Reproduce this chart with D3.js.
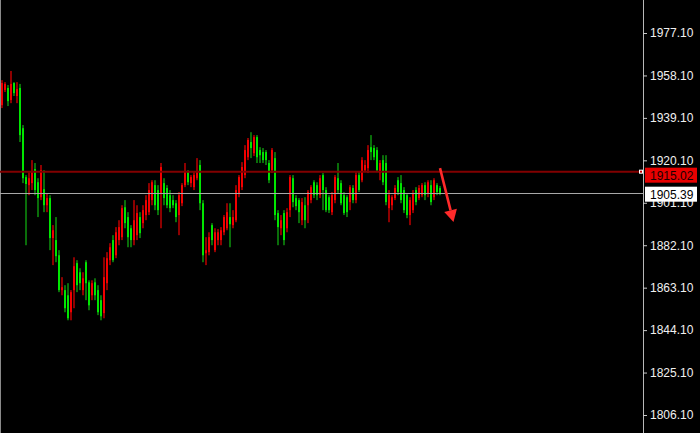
<!DOCTYPE html>
<html><head><meta charset="utf-8">
<script src="https://cdn.jsdelivr.net/npm/d3@7"></script>
<style>html,body{margin:0;padding:0;background:#000;}svg{display:block;}</style>
</head><body>
<svg id="chart" width="700" height="433"></svg>
<script>
// ---- data (prices) ----
const opens = [1944.8,1951.6,1952.5,1947.1,1954.7,1948.9,1952.5,1934.5,1912.6,1909.0,1909.9,1916.2,1910.3,1903.6,1907.2,1900.0,1903.2,1885.3,1884.4,1877.6,1862.0,1862.0,1859.7,1852.1,1862.0,1874.1,1870.0,1862.0,1874.5,1865.5,1859.7,1865.5,1862.0,1857.5,1851.7,1865.1,1875.4,1884.4,1877.6,1884.4,1885.7,1899.1,1894.7,1889.7,1884.4,1886.6,1894.7,1892.0,1895.6,1896.9,1902.3,1909.0,1906.8,1905.4,1909.9,1907.7,1904.5,1902.3,1900.9,1895.6,1900.9,1909.0,1914.8,1909.9,1908.1,1912.1,1918.0,1900.9,1878.5,1879.0,1891.1,1879.9,1884.4,1884.4,1887.9,1889.7,1894.7,1891.1,1893.3,1905.4,1908.1,1913.5,1921.5,1928.3,1923.3,1930.5,1924.7,1923.8,1923.8,1918.9,1915.7,1921.1,1896.5,1889.7,1896.5,1889.7,1897.8,1912.1,1903.2,1902.3,1893.3,1900.0,1900.0,1902.3,1910.3,1909.0,1904.5,1913.5,1906.8,1903.6,1896.9,1902.3,1912.1,1909.9,1904.5,1903.6,1901.4,1907.7,1902.3,1913.5,1911.2,1915.7,1916.6,1926.0,1925.6,1924.7,1914.4,1920.2,1918.9,1898.7,1900.0,1903.2,1911.2,1909.9,1906.8,1904.5,1895.6,1897.8,1906.8,1903.2,1904.5,1909.0,1905.4,1909.0,1903.6,1909.0,1907.7];
const highs = [1956.0,1955.1,1953.8,1960.1,1955.1,1955.1,1954.3,1935.9,1913.5,1914.8,1920.2,1918.9,1912.1,1918.0,1915.7,1905.4,1904.5,1891.1,1894.7,1879.9,1867.8,1864.2,1865.1,1862.0,1876.7,1875.4,1871.8,1870.0,1875.4,1866.4,1866.4,1867.3,1864.2,1859.7,1876.7,1879.0,1883.0,1886.6,1890.2,1893.3,1900.0,1902.3,1896.9,1891.1,1902.3,1900.0,1896.9,1900.0,1904.5,1909.9,1911.2,1911.2,1909.0,1918.9,1912.1,1909.0,1906.8,1904.5,1902.3,1905.9,1909.9,1918.9,1915.7,1913.5,1914.8,1921.1,1920.2,1902.3,1885.7,1887.9,1892.0,1889.7,1889.3,1890.2,1895.6,1900.9,1900.9,1897.8,1909.0,1913.5,1919.3,1926.9,1930.1,1932.7,1931.4,1931.4,1926.0,1925.6,1924.7,1920.2,1925.6,1923.8,1897.8,1895.6,1897.8,1898.7,1913.5,1913.5,1904.5,1903.2,1903.2,1903.6,1906.8,1909.0,1911.2,1910.3,1913.5,1914.4,1908.1,1904.5,1905.9,1913.5,1918.9,1911.2,1905.9,1904.5,1909.0,1909.0,1914.8,1914.8,1921.5,1920.2,1926.9,1931.4,1926.9,1926.0,1920.2,1922.4,1922.4,1906.8,1904.5,1909.0,1912.6,1913.5,1908.1,1905.4,1903.6,1906.8,1908.1,1909.0,1909.9,1910.3,1911.2,1911.2,1912.1,1909.9,1908.6];
const lows = [1943.5,1950.7,1944.4,1945.7,1948.9,1945.7,1928.3,1909.9,1882.1,1904.5,1906.8,1904.5,1894.7,1902.3,1896.9,1896.9,1879.9,1873.2,1874.5,1861.1,1859.7,1852.1,1848.5,1848.5,1853.9,1861.1,1862.0,1859.7,1857.5,1853.0,1857.5,1857.5,1850.8,1848.5,1849.4,1862.0,1873.2,1874.5,1876.3,1882.1,1884.4,1889.7,1881.2,1881.2,1882.1,1884.4,1885.3,1889.7,1893.3,1895.6,1900.0,1897.8,1895.6,1889.7,1900.0,1898.7,1896.9,1898.7,1892.4,1886.6,1899.6,1908.1,1909.0,1908.1,1906.8,1911.2,1897.8,1874.5,1873.2,1877.6,1882.1,1879.0,1882.1,1882.1,1886.6,1888.8,1881.2,1889.7,1892.4,1903.6,1906.8,1912.1,1920.2,1921.1,1922.0,1918.9,1918.9,1918.9,1918.0,1909.9,1914.4,1893.3,1882.1,1886.6,1882.1,1887.9,1894.7,1899.1,1897.8,1892.0,1891.1,1889.7,1892.0,1900.9,1903.2,1902.3,1903.2,1897.8,1896.9,1896.5,1895.6,1900.9,1905.4,1900.0,1895.6,1894.7,1897.8,1900.9,1900.9,1905.9,1910.3,1914.8,1914.4,1920.2,1920.2,1914.8,1911.2,1909.0,1900.0,1892.4,1897.8,1902.3,1904.5,1900.9,1896.5,1894.2,1891.1,1896.5,1900.0,1902.3,1903.6,1902.3,1903.6,1900.0,1902.3,1904.5,1904.5];
const closes = [1954.7,1954.3,1946.6,1954.3,1950.2,1952.0,1931.4,1912.1,1909.5,1912.1,1914.8,1906.8,1903.2,1915.7,1900.0,1903.2,1885.3,1888.8,1877.2,1862.0,1863.3,1853.9,1849.4,1861.1,1872.7,1864.2,1865.1,1867.3,1865.1,1855.2,1865.1,1859.7,1852.1,1850.3,1867.8,1876.3,1881.2,1875.4,1887.9,1890.2,1898.7,1892.0,1885.7,1884.4,1893.3,1896.5,1887.5,1897.8,1902.3,1906.8,1910.3,1900.0,1897.8,1917.1,1903.2,1900.0,1898.7,1900.0,1894.7,1904.5,1909.0,1915.3,1910.3,1912.6,1913.5,1914.8,1900.9,1877.6,1879.9,1885.7,1884.4,1887.9,1887.9,1888.8,1894.7,1896.9,1891.5,1894.7,1906.8,1912.6,1917.1,1924.7,1929.2,1925.6,1930.5,1921.5,1922.4,1920.2,1920.2,1911.2,1924.7,1895.6,1890.2,1893.3,1884.4,1896.9,1912.6,1901.4,1899.6,1896.9,1901.4,1893.3,1905.9,1908.1,1904.5,1904.5,1912.1,1906.8,1897.8,1897.8,1904.5,1912.6,1906.8,1900.9,1896.5,1896.9,1908.1,1902.3,1913.5,1906.8,1920.2,1918.0,1924.7,1923.8,1921.5,1915.7,1918.9,1910.3,1901.4,1904.5,1903.6,1907.7,1905.9,1902.3,1897.8,1895.6,1902.3,1905.4,1901.4,1907.7,1909.0,1904.5,1910.3,1901.4,1911.2,1905.9,1905.4];
const priceTicks = [1977.10,1958.10,1939.10,1920.10,1901.10,1882.10,1863.10,1844.10,1825.10,1806.10];
const markerLevels = [{value:1915.02, kind:"red"},{value:1905.39, kind:"white"}];
const arrowAnno = {from:[146, 1916.6], to:[150.5, 1892.5]};

const candles = opens.map((o,i)=>({i, o, h:highs[i], l:lows[i], c:closes[i]}));

// ---- layout ----
const W = 700, H = 433, axisX = 643;
const svg = d3.select("#chart");
svg.append("rect").attr("width",W).attr("height",H).attr("fill","#000");

const x = d3.scaleLinear().domain([0, candles.length-1]).range([2, 440]);
const y = d3.scaleLinear().domain([1806.1, 1977.1]).range([415, 33]);

// left border
svg.append("line").attr("x1",0.5).attr("x2",0.5).attr("y1",0).attr("y2",H)
  .attr("stroke","#8a8a8a").attr("stroke-width",1);

// candles
const up = d => d.c >= d.o;
const g = svg.append("g");
g.selectAll("rect.wick").data(candles).join("rect").attr("class","wick")
  .attr("x", d=>Math.round(x(d.i))-1).attr("width",2)
  .attr("y", d=>y(d.h)).attr("height", d=>Math.max(1, y(d.l)-y(d.h)))
  .attr("fill", d=> up(d) ? "#8e0000" : "#0a6e0a");
g.selectAll("rect.body").data(candles).join("rect").attr("class","body")
  .attr("x", d=>Math.round(x(d.i))-1).attr("width",2)
  .attr("y", d=>y(Math.max(d.o,d.c))).attr("height", d=>Math.max(1, Math.abs(y(d.o)-y(d.c))))
  .attr("fill", d=> up(d) ? "#f20000" : "#00e600");

// horizontal level lines
const redLv = markerLevels[0], whiteLv = markerLevels[1];
svg.append("line").attr("x1",0).attr("x2",axisX).attr("y1",y(redLv.value)).attr("y2",y(redLv.value))
  .attr("stroke","#820000").attr("stroke-width",2);
svg.append("line").attr("x1",0).attr("x2",axisX).attr("y1",Math.round(y(whiteLv.value))+0.5).attr("y2",Math.round(y(whiteLv.value))+0.5)
  .attr("stroke","#a8a8a8").attr("stroke-width",1);
svg.append("rect").attr("x",axisX-3.5).attr("y",y(redLv.value)-1.5).attr("width",3).attr("height",3)
  .attr("fill","#c00000").attr("stroke","#ffffff").attr("stroke-width",1);

// arrow annotation
const ax1 = x(arrowAnno.from[0]), ay1 = y(arrowAnno.from[1]);
const ax2 = x(arrowAnno.to[0]), ay2 = y(arrowAnno.to[1]);
const ang = Math.atan2(ay2-ay1, ax2-ax1);
const headLen = 12, headW = 6.5;
const bx = ax2 - headLen*Math.cos(ang), by = ay2 - headLen*Math.sin(ang);
svg.append("line").attr("x1",ax1).attr("y1",ay1).attr("x2",bx).attr("y2",by)
  .attr("stroke","#ff2a2a").attr("stroke-width",2.6);
svg.append("path").attr("d", d3.line()([
  [ax2, ay2],
  [bx + headW*Math.sin(ang), by - headW*Math.cos(ang)],
  [bx - headW*Math.sin(ang), by + headW*Math.cos(ang)]
])+"Z").attr("fill","#ff2a2a");

// price axis
svg.append("line").attr("x1",axisX+0.5).attr("x2",axisX+0.5).attr("y1",0).attr("y2",H)
  .attr("stroke","#b8b8b8").attr("stroke-width",1);
const axis = d3.axisRight(y).tickValues(priceTicks).tickSize(4).tickPadding(3)
  .tickFormat(d3.format(".2f"));
const axG = svg.append("g").attr("transform",`translate(${axisX},0)`).call(axis);
axG.select(".domain").remove();
axG.selectAll(".tick line").attr("stroke","#c8c8c8");
axG.selectAll(".tick text").attr("fill","#f0f0f0")
  .style("font-family","'Liberation Sans', Arial, sans-serif").style("font-size","12px");

// level labels
function levelLabel(lv, fill, txtColor, shift){
  const cy = y(lv.value) + shift;
  svg.append("rect").attr("x",axisX+2).attr("y",cy-7.5).attr("width",52).attr("height",15).attr("fill",fill);
  svg.append("text").attr("x",axisX+7).attr("y",cy).attr("dy","0.36em").text(d3.format(".2f")(lv.value))
    .attr("fill",txtColor).style("font-family","'Liberation Sans', Arial, sans-serif").style("font-size","12px");
}
levelLabel(redLv, "#e80000", "#1a0000", 3.5);
levelLabel(whiteLv, "#ffffff", "#000000", 1);
</script>
</body></html>
